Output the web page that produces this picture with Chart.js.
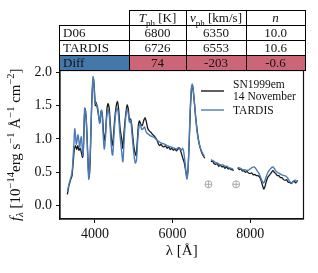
<!DOCTYPE html>
<html lang="en">
  <head>
    <meta charset="UTF-8" />
    <title>SN1999em vs TARDIS</title>
    <script src="https://cdn.jsdelivr.net/npm/chart.js"></script>
    <style>
      body { margin: 0; background: #fff; }
      #wrap { position: relative; width: 318px; height: 273px; }
      #params {
        position: absolute; left: 59px; top: 10px;
        border-collapse: collapse;
        font-family: "Liberation Serif", serif; font-size: 13px; color: #111;
      }
      #params td {
        border: 1px solid #000; height: 14px; line-height: 14px;
        padding: 0; text-align: center;
      }
      #params td.lab { text-align: left; padding-left: 3px; }
      #params td.blank { border: none; }
      #params sub { font-size: 9px; line-height: 0; }
    </style>
  </head>
  <body>
    <div id="wrap">
      <canvas id="myChart" width="318" height="273"></canvas>
      <table id="params"></table>
    </div>

    <script>
      // observed spectrum (SN1999em, 14 November), null = telluric gap
      const obsWave = [3290, 3330, 3370, 3410, 3440, 3470, 3500, 3530, 3560, 3590, 3620, 3650, 3680, 3700,
        3730, 3750, 3775, 3800, 3830, 3850, 3880, 3910, 3940, 3965, 3990, 4010, 4030, 4050, 4080, 4100,
        4130, 4160, 4190, 4220, 4250, 4280, 4310, 4340, 4370, 4400, 4440, 4470, 4510, 4550, 4580, 4610,
        4650, 4690, 4720, 4750, 4790, 4830, 4860, 4890, 4920, 4950, 4990, 5030, 5060, 5090, 5120, 5150,
        5180, 5220, 5260, 5290, 5320, 5360, 5400, 5440, 5480, 5520, 5560, 5600, 5640, 5670, 5700, 5740,
        5780, 5820, 5860, 5900, 5940, 5980, 6020, 6060, 6100, 6140, 6180, 6220, 6260, 6300, 6340, 6370,
        6400, 6430, 6460, 6490, 6515, 6540, 6570, 6600, 6630, 6660, 6690, 6720, 6760, 6800, 6830, 6900,
        6990, 7030, 7070, 7110, 7150, 7190, 7230, 7270, 7310, 7350, 7390, 7430, 7470, 7510, 7550, 7570, 7620,
        7680, 7720, 7760, 7800, 7840, 7880, 7920, 7960, 8000, 8040, 8080, 8120, 8160, 8200, 8240, 8280,
        8320, 8350, 8380, 8410, 8450, 8500, 8550, 8590, 8620, 8660, 8700, 8740, 8780, 8820, 8860, 8900,
        8940, 8980, 9020, 9060, 9100, 9140, 9180, 9220];
      const obsFlux = [0.17, 0.30, 0.38, 0.45, 0.65, 0.85, 0.90, 0.84, 0.90, 0.83, 0.86, 0.80, 0.72, 0.80,
        1.35, 1.45, 1.30, 1.00, 0.55, 0.42, 0.70, 1.40, 1.80, 1.90, 1.70, 1.50, 1.55, 1.50, 1.40, 1.32,
        1.25, 1.42, 1.38, 1.10, 0.98, 1.15, 1.45, 1.53, 1.45, 1.20, 0.90, 1.00, 1.30, 1.50, 1.56, 1.45,
        1.15, 1.00, 0.86, 1.10, 1.35, 1.51, 1.45, 1.28, 1.30, 1.20, 0.95, 0.80, 0.75, 0.95, 1.20, 1.27,
        1.22, 1.20, 1.28, 1.32, 1.27, 1.16, 1.12, 1.10, 1.07, 1.05, 1.02, 0.98, 0.92, 0.90, 0.92, 0.89,
        0.88, 0.90, 0.86, 0.88, 0.84, 0.86, 0.83, 0.85, 0.82, 0.85, 0.86, 0.80, 0.72, 0.65, 0.52, 0.43,
        0.55, 0.95, 1.45, 1.75, 1.80, 1.68, 1.50, 1.30, 1.15, 1.02, 0.92, 0.85, 0.78, 0.74, 0.71, null,
        0.66, 0.67, 0.63, 0.62, 0.63, 0.59, 0.61, 0.58, 0.59, 0.56, 0.58, 0.55, 0.56, 0.54, 0.54, 0.52, null,
        0.57, 0.54, 0.55, 0.52, 0.52, 0.50, 0.51, 0.49, 0.48, 0.49, 0.46, 0.47, 0.45, 0.45, 0.43, 0.38,
        0.30, 0.25, 0.28, 0.35, 0.42, 0.46, 0.50, 0.53, 0.50, 0.48, 0.45, 0.45, 0.42, 0.42, 0.39, 0.38,
        0.39, 0.35, 0.35, 0.33, 0.36, 0.36, 0.34, 0.38];

      // TARDIS model spectrum
      const modelWave = [3290, 3330, 3370, 3410, 3440, 3460, 3480, 3500, 3520, 3545, 3565, 3590, 3610, 3630,
        3650, 3670, 3690, 3710, 3735, 3760, 3780, 3810, 3840, 3860, 3890, 3920, 3950, 3975, 4000, 4030,
        4060, 4090, 4120, 4150, 4175, 4200, 4240, 4270, 4300, 4340, 4370, 4400, 4440, 4460, 4490, 4530,
        4570, 4600, 4640, 4690, 4720, 4750, 4790, 4830, 4860, 4890, 4920, 4960, 5000, 5040, 5070, 5100,
        5140, 5170, 5210, 5250, 5280, 5310, 5350, 5400, 5450, 5500, 5550, 5600, 5650, 5700, 5750, 5800,
        5850, 5900, 5950, 6000, 6050, 6100, 6150, 6190, 6230, 6260, 6290, 6330, 6370, 6400, 6430, 6460,
        6490, 6510, 6540, 6570, 6600, 6630, 6660, 6700, 6740, 6780, 6820, 6900,
        6990, 7050, 7100, 7150, 7200, 7250, 7300, 7350, 7400, 7450, 7500, 7560, 7620,
        7680, 7750, 7800, 7850, 7900, 7950, 8000, 8050, 8100, 8140, 8180, 8220, 8260, 8300, 8340, 8370,
        8410, 8460, 8520, 8580, 8620, 8660, 8700, 8760, 8820, 8880, 8920, 8960, 9000, 9040, 9080, 9120,
        9160, 9200, 9230];
      const modelFlux = [0.21, 0.32, 0.40, 0.50, 0.75, 0.95, 1.15, 1.05, 0.92, 1.00, 1.06, 0.95, 0.88, 0.98,
        1.03, 0.90, 0.75, 0.95, 1.46, 1.40, 1.25, 0.80, 0.40, 0.50, 1.00, 1.55, 1.93, 1.80, 1.55, 1.52,
        1.50, 1.38, 1.23, 1.38, 1.43, 1.20, 0.85, 1.00, 1.30, 1.44, 1.35, 1.10, 0.78, 0.76, 1.05, 1.35,
        1.46, 1.40, 1.10, 0.80, 0.66, 0.95, 1.30, 1.44, 1.38, 1.25, 1.28, 1.05, 0.80, 0.64, 0.68, 0.95,
        1.20, 1.21, 1.14, 1.16, 1.18, 1.12, 1.08, 1.06, 1.04, 1.03, 1.01, 0.98, 0.96, 0.94, 0.93, 0.92,
        0.90, 0.89, 0.88, 0.87, 0.86, 0.85, 0.87, 0.86, 0.83, 0.86, 0.80, 0.60, 0.40, 0.55, 1.00, 1.50,
        1.78, 1.82, 1.70, 1.50, 1.30, 1.12, 1.00, 0.90, 0.83, 0.78, 0.74, null,
        0.69, 0.67, 0.65, 0.64, 0.62, 0.61, 0.61, 0.59, 0.59, 0.57, 0.56, 0.55, null,
        0.57, 0.56, 0.54, 0.54, 0.53, 0.53, 0.55, 0.57, 0.58, 0.56, 0.52, 0.49, 0.44, 0.38, 0.34, 0.36,
        0.43, 0.50, 0.55, 0.58, 0.56, 0.52, 0.50, 0.48, 0.46, 0.45, 0.44, 0.42, 0.38, 0.35, 0.34, 0.37,
        0.38, 0.36, 0.37];

      // telluric markers
      const telluricWave = [6925, 7640];
      const telluricFlux = [0.32, 0.32];

      const xTicks = [4000, 6000, 8000];
      const yTicks = [0, 0.5, 1.0, 1.5, 2.0];

      // parameter table
      const rowNames = ["D06", "TARDIS", "Diff"];
      const tphValues = ["6800", "6726", "74"];
      const vphValues = ["6350", "6553", "-203"];
      const nValues = ["10.0", "10.6", "-0.6"];

      const obsLabel = ["SN1999em", "14 November"];
      const modelLabel = "TARDIS";
      const blue = "#4a7bb7";

      // build the table
      const table = document.getElementById("params");
      let html =
        '<tr><td class="blank" style="width:69px"></td>' +
        '<td style="width:56px"><i>T</i><sub>ph</sub> [K]</td>' +
        '<td style="width:59px"><i>v</i><sub>ph</sub> [km/s]</td>' +
        '<td style="width:58px"><i>n</i></td></tr>';
      rowNames.forEach((name, i) => {
        const last = i === rowNames.length - 1;
        const lab = last ? ' style="background:#4477aa"' : "";
        const val = last ? ' style="background:#cc6677"' : "";
        html +=
          "<tr><td class=\"lab\"" + lab + ">" + name + "</td>" +
          "<td" + val + ">" + tphValues[i] + "</td>" +
          "<td" + val + ">" + vphValues[i] + "</td>" +
          "<td" + val + ">" + nValues[i] + "</td></tr>";
      });
      table.innerHTML = html;

      const toPoints = (xs, ys) => xs.map((x, i) => ({ x: x, y: ys[i] }));
      const serif = "Liberation Serif";

      // box around the axes + legend + y label
      const extras = {
        id: "extras",
        afterDatasetsDraw(chart) {
          const { ctx, chartArea: a } = chart;
          ctx.save();
          ctx.strokeStyle = "#111";
          ctx.lineWidth = 1.2;
          ctx.strokeRect(a.left, a.top, a.right - a.left, a.bottom - a.top);

          // legend
          const ds = chart.data.datasets;
          ctx.font = "11.5px " + serif;
          ctx.textBaseline = "middle";
          ctx.fillStyle = "#111";
          ctx.lineWidth = 1.4;
          ctx.strokeStyle = ds[1].borderColor;
          ctx.beginPath(); ctx.moveTo(201, 91); ctx.lineTo(224, 91); ctx.stroke();
          ctx.fillText(obsLabel[0], 233, 85);
          ctx.fillText(obsLabel[1], 233, 96.5);
          ctx.strokeStyle = ds[0].borderColor;
          ctx.beginPath(); ctx.moveTo(201, 110); ctx.lineTo(224, 110); ctx.stroke();
          ctx.fillText(ds[0].label, 233, 111);

          // y axis title with sub/superscripts
          const parts = [
            ["f", 15, 0, true], ["λ", 11, 3, true], [" [10", 15, 0], ["−14", 10.5, -6],
            ["erg s", 15, 0], ["−1", 10.5, -6], [" Å", 15, 0], ["−1", 10.5, -6],
            [" cm", 15, 0], ["−2", 10.5, -6], ["]", 15, 0],
          ];
          let total = 0;
          parts.forEach(p => {
            ctx.font = (p[3] ? "italic " : "") + p[1] + "px " + serif;
            p.w = ctx.measureText(p[0]).width;
            total += p.w;
          });
          ctx.translate(20, (a.top + a.bottom) / 2);
          ctx.rotate(-Math.PI / 2);
          ctx.textBaseline = "alphabetic";
          let x = -total / 2;
          parts.forEach(p => {
            ctx.font = (p[3] ? "italic " : "") + p[1] + "px " + serif;
            ctx.fillText(p[0], x, p[2]);
            x += p.w;
          });
          ctx.restore();
        },
      };

      new Chart(document.getElementById("myChart"), {
        type: "line",
        data: {
          datasets: [
            {
              label: modelLabel,
              data: toPoints(modelWave, modelFlux),
              borderColor: blue,
              borderWidth: 1.4,
              pointRadius: 0,
              tension: 0.35,
              order: 0,
            },
            {
              label: obsLabel.join(" "),
              data: toPoints(obsWave, obsFlux),
              borderColor: "#1a1a1a",
              borderWidth: 1.3,
              pointRadius: 0,
              tension: 0.2,
              order: 1,
            },
            {
              label: "telluric ring",
              data: toPoints(telluricWave, telluricFlux),
              showLine: false,
              pointStyle: "circle",
              pointRadius: 3.5,
              borderWidth: 0.8,
              borderColor: "#999",
              backgroundColor: "rgba(0,0,0,0)",
              order: 2,
            },
            {
              label: "telluric cross",
              data: toPoints(telluricWave, telluricFlux),
              showLine: false,
              pointStyle: "cross",
              pointRadius: 3.5,
              borderWidth: 0.8,
              borderColor: "#999",
              order: 2,
            },
          ],
        },
        options: {
          responsive: false,
          animation: false,
          spanGaps: false,
          layout: { padding: { top: 70.5, right: 14.5, bottom: 9, left: 0 } },
          plugins: { legend: { display: false }, tooltip: { enabled: false } },
          scales: {
            x: {
              type: "linear",
              min: 3100,
              max: 9375,
              afterFit: (s) => { s.height = 45; },
              afterBuildTicks: (s) => { s.ticks = xTicks.map((v) => ({ value: v })); },
              ticks: {
                color: "#111",
                padding: 3,
                maxRotation: 0,
                font: { family: serif, size: 14 },
                callback: (v) => String(v),
              },
              grid: { drawOnChartArea: false, tickLength: 4, color: "#111" },
              border: { color: "#111", width: 1.2 },
              title: {
                display: true,
                text: "λ [Å]",
                color: "#111",
                font: { family: serif, size: 15 },
              },
            },
            y: {
              min: -0.2,
              max: 2.025,
              afterFit: (s) => { s.width = 60; },
              afterBuildTicks: (s) => { s.ticks = yTicks.map((v) => ({ value: v })); },
              ticks: {
                color: "#111",
                padding: 4,
                font: { family: serif, size: 14 },
                callback: (v) => v.toFixed(1),
              },
              grid: { drawOnChartArea: false, tickLength: 4, color: "#111" },
              border: { color: "#111", width: 1.2 },
            },
          },
        },
        plugins: [extras],
      });
    </script>
  </body>
</html>
